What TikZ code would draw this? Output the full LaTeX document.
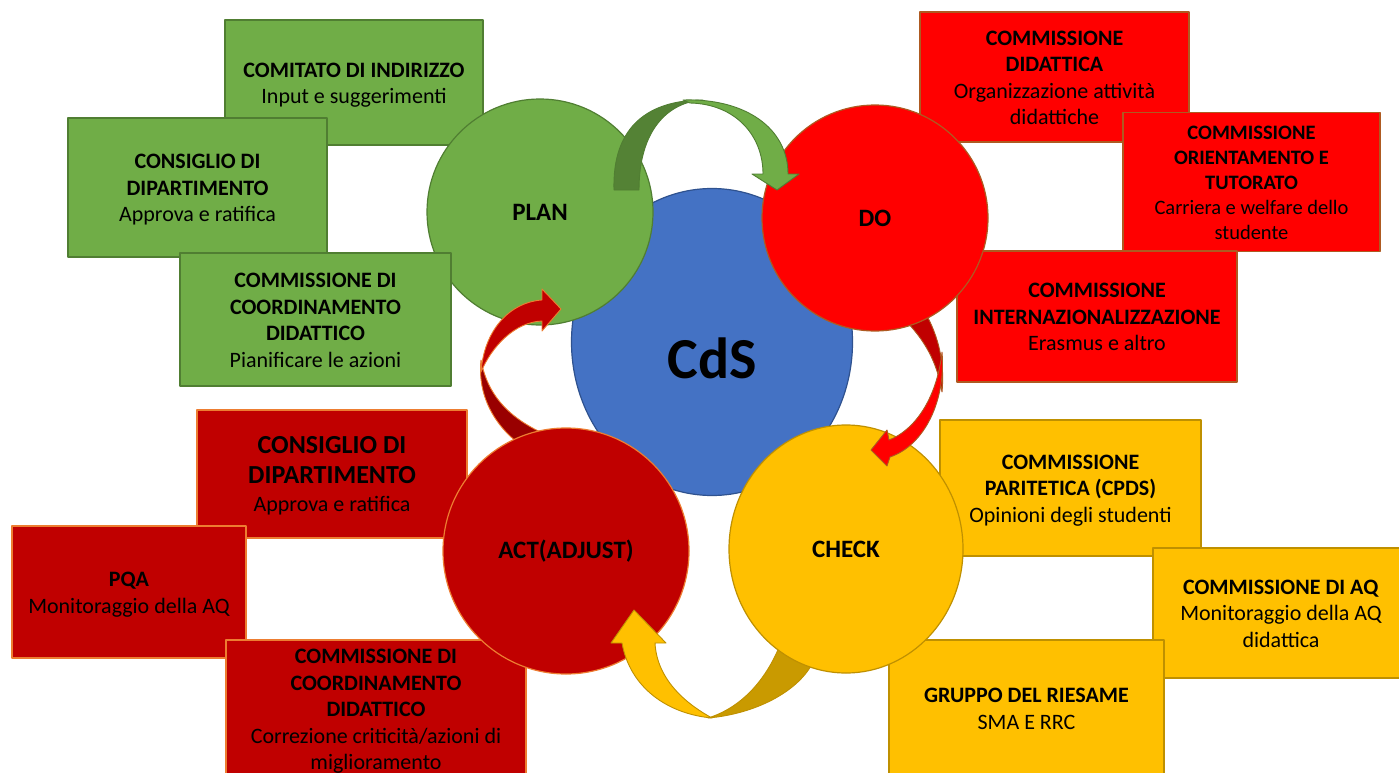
\documentclass[tikz,border=0pt]{standalone}
\usepackage{fontspec}
\setmainfont{Carlito}
\usetikzlibrary{shapes.geometric}
\definecolor{gfill}{HTML}{70AD47}
\definecolor{gline}{HTML}{507E32}
\definecolor{gdark}{HTML}{548235}
\definecolor{rfill}{HTML}{FF0000}
\definecolor{rline}{HTML}{AE5A21}
\definecolor{rdark}{HTML}{C00000}
\definecolor{yfill}{HTML}{FFC000}
\definecolor{yline}{HTML}{BF9000}
\definecolor{ydark}{HTML}{C99A00}
\definecolor{dfill}{HTML}{C00000}
\definecolor{dline}{HTML}{ED7D31}
\definecolor{ddark}{HTML}{990000}
\definecolor{bfill}{HTML}{4472C4}
\definecolor{bline}{HTML}{2F528F}
\newcommand{\mystrut}{\vrule width 0pt height \dimexpr.7\baselineskip+2.5pt\relax depth \dimexpr.3\baselineskip-2.5pt\relax}
\tikzset{
  boxbase/.style={rectangle, draw, line width=1.2pt, inner sep=0pt, align=center,
    font=\fontsize{22}{26.5}\selectfont},
  gbox/.style={boxbase, fill=gfill, draw=gline},
  rbox/.style={boxbase, fill=rfill, draw=rline},
  ybox/.style={boxbase, fill=yfill, draw=yline},
  dbox/.style={boxbase, fill=dfill, draw=dline},
  phase/.style={ellipse, draw, line width=1.2pt, inner sep=0pt,
    font=\fontsize{25}{30}\selectfont\bfseries},
  arrline/.style={line width=0.9pt},
}
\begin{document}
\begin{tikzpicture}[x=1pt,y=-1pt,line join=round]
\useasboundingbox (0,0) rectangle (1399,773);
\clip (0,0) rectangle (1399,773);

% ---------- boxes (behind circles) ----------
\node[gbox, minimum width=258pt, minimum height=125pt] (b1) at (354,82.5)
  {\mystrut\textbf{COMITATO DI INDIRIZZO}\\\mystrut Input e suggerimenti};
\node[gbox, minimum width=259pt, minimum height=139pt] (b2) at (197.5,187.5)
  {\mystrut\textbf{CONSIGLIO DI}\\\mystrut\textbf{DIPARTIMENTO}\\\mystrut Approva e ratifica};

\node[rbox, minimum width=269pt, minimum height=130pt] (b4) at (1054.5,77)
  {\mystrut\textbf{COMMISSIONE}\\\mystrut\textbf{DIDATTICA}\\\mystrut Organizzazione attività\\\mystrut didattiche};
\node[rbox, minimum width=257pt, minimum height=139pt, font=\fontsize{20.5}{24.8}\selectfont] (b5) at (1251.5,182)
  {\mystrut\textbf{COMMISSIONE}\\\mystrut\textbf{ORIENTAMENTO E}\\\mystrut\textbf{TUTORATO}\\\mystrut Carriera e welfare dello\\\mystrut studente};
\node[rbox, minimum width=280pt, minimum height=131pt] (b6) at (1097,316.5)
  {\mystrut\textbf{COMMISSIONE}\\\mystrut\textbf{INTERNAZIONALIZZAZIONE}\\\mystrut Erasmus e altro};

\node[ybox, minimum width=261pt, minimum height=136pt] (b7) at (1070.5,488)
  {\mystrut\textbf{COMMISSIONE}\\\mystrut\textbf{PARITETICA (CPDS)}\\\mystrut Opinioni degli studenti};
\node[ybox, minimum width=256pt, minimum height=130pt] (b8) at (1281,613)
  {\mystrut\textbf{COMMISSIONE DI AQ}\\\mystrut Monitoraggio della AQ\\\mystrut didattica};
\node[ybox, minimum width=275pt, minimum height=136pt] (b9) at (1026.5,708)
  {\mystrut\textbf{GRUPPO DEL RIESAME}\\\mystrut SMA E RRC};

\node[dbox, minimum width=270pt, minimum height=128pt] (b10) at (332,474)
  {{\fontsize{26}{29}\selectfont\mystrut\textbf{CONSIGLIO DI}}\\
   {\fontsize{26}{29}\selectfont\mystrut\textbf{DIPARTIMENTO}}\\
   \mystrut Approva e ratifica};
\node[dbox, minimum width=234pt, minimum height=132pt] (b11) at (129,592)
  {\mystrut\textbf{PQA}\\\mystrut Monitoraggio della AQ};
\node[dbox, minimum width=300pt, minimum height=138pt] (b12) at (376,709)
  {\mystrut\textbf{COMMISSIONE DI}\\\mystrut\textbf{COORDINAMENTO}\\\mystrut\textbf{DIDATTICO}\\\mystrut Correzione criticità/azioni di\\\mystrut miglioramento};

% ---------- central circle ----------
\node[ellipse, draw=bline, fill=bfill, line width=1.2pt, minimum width=281pt, minimum height=307pt, inner sep=0pt] (cds) at (712,342) {};

% ---------- PLAN ----------
\node[phase, fill=gfill, draw=gline, minimum width=226pt, minimum height=226pt] (plan) at (540,212) {PLAN};

% arrow ACT -> PLAN (dark red)
\filldraw[arrline, fill=ddark, draw=dline]
  (481,360) .. controls (477,398) and (497,428) .. (522,446) -- (549,436)
  .. controls (512,420) and (488,398) .. (481,360) -- cycle;
\filldraw[arrline, fill=dfill, draw=dline]
  (542,300) .. controls (510,302) and (484,330) .. (481,372)
  .. controls (492,346) and (515,322) .. (542,321) -- (542,331) -- (561,309) -- (542,289) -- cycle;

% ---------- ACT ----------
\node[phase, fill=dfill, draw=dline, minimum width=246pt, minimum height=246pt] (act) at (566,551) {ACT(ADJUST)};

% arrow CHECK -> ACT (yellow)
\filldraw[arrline, fill=ydark, draw=yline]
  (708,718) .. controls (755,714) and (797,692) .. (812,664) -- (780,645)
  .. controls (765,682) and (740,708) .. (708,718) -- cycle;
\filldraw[arrline, fill=yfill, draw=yline]
  (622,643) .. controls (630,688) and (668,714) .. (712,718)
  .. controls (690,706) and (657,682) .. (655,643) -- (666,643) -- (634,610) -- (611,643) -- cycle;

% ---------- CHECK ----------
\node[phase, fill=yfill, draw=yline, minimum width=234pt, minimum height=248pt] (check) at (846,549) {CHECK};

% arrow DO -> CHECK (red)
\filldraw[arrline, fill=rdark, draw=rline]
  (903,318) -- (926,314) .. controls (938,336) and (945,362) .. (942,392)
  .. controls (937,362) and (925,340) .. (903,318) -- cycle;
\filldraw[arrline, fill=rfill, draw=rline]
  (942,352) .. controls (946,400) and (925,445) .. (890,457) -- (887,466) -- (871,450)
  -- (887,430) -- (889,440) .. controls (915,430) and (937,398) .. (942,352) -- cycle;

% ---------- DO ----------
\node[phase, fill=rfill, draw=rline, minimum width=226pt, minimum height=226pt] (do) at (875,218) {DO};

% arrow PLAN -> DO (green)
\filldraw[arrline, fill=gdark, draw=gline]
  (614,190) .. controls (612,125) and (650,100) .. (703,100)
  .. controls (668,102) and (639,130) .. (639,190) -- cycle;
\filldraw[arrline, fill=gfill, draw=gline]
  (683,100) .. controls (745,98) and (788,128) .. (788,174) -- (799,174) -- (777,190)
  -- (752,174) -- (763,174) .. controls (763,135) and (735,104) .. (690,103) -- cycle;

% green box over PLAN circle
\node[gbox, minimum width=271pt, minimum height=133pt] (b3) at (315.5,319.5)
  {\mystrut\textbf{COMMISSIONE DI}\\\mystrut\textbf{COORDINAMENTO}\\\mystrut\textbf{DIDATTICO}\\\mystrut Pianificare le azioni};

% CdS label
\node[font=\fontsize{58}{70}\selectfont\bfseries, inner sep=0pt] (cdslabel) at ([yshift=-16pt]cds.center) {CdS};
\end{tikzpicture}
\end{document}
